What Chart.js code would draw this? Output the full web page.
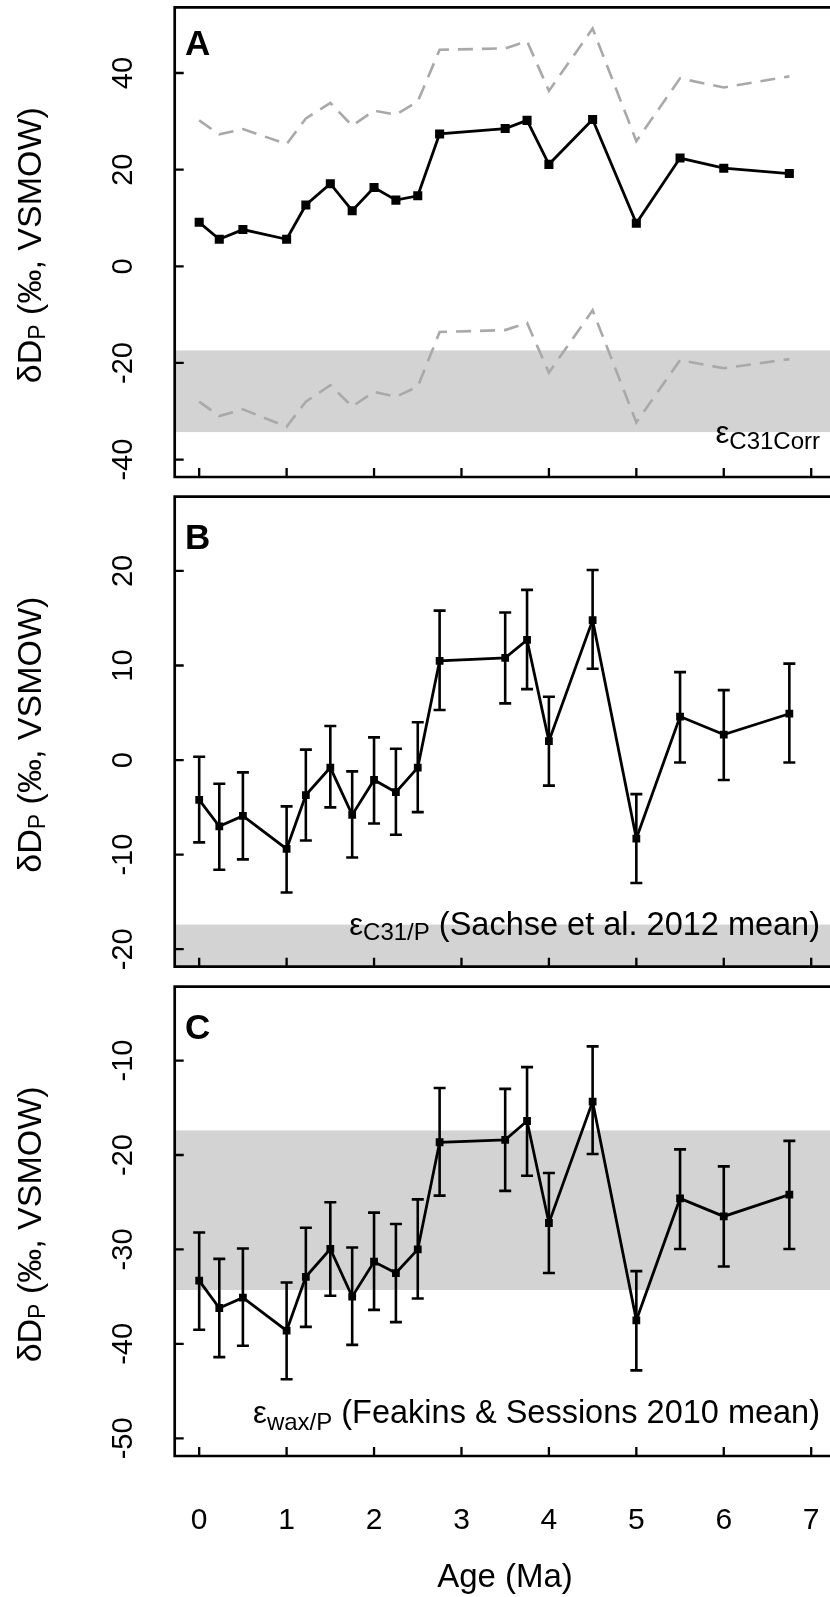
<!DOCTYPE html>
<html>
<head>
<meta charset="utf-8">
<script src="https://cdn.jsdelivr.net/npm/chart.js@4.4.1/dist/chart.umd.min.js"></script>
<style>
  body { margin: 0; background: #fff; width: 830px; height: 1597px; overflow: hidden; }
  canvas { position: absolute; left: 0; }
</style>
</head>
<body>
<canvas id="chartA" width="830" height="490" style="top:0px"></canvas>
<canvas id="chartB" width="830" height="490" style="top:490px"></canvas>
<canvas id="chartC" width="830" height="617" style="top:980px"></canvas>
<script>
// shared x axis (age, Ma)
const ages = [0, 0.23, 0.5, 1, 1.22, 1.5, 1.75, 2, 2.25, 2.5, 2.75, 3.5, 3.75, 4, 4.5, 5, 5.5, 6, 6.75];
const xTicks = [0, 1, 2, 3, 4, 5, 6, 7];
const xRange = [-0.28, 7.215];

// panel A: corrected epsilon, mean with upper/lower envelope
const corrMean = [9.1, 5.6, 7.6, 5.6, 12.7, 17.1, 11.5, 16.3, 13.7, 14.6, 27.4, 28.5, 30.2, 21.1, 30.4, 8.9, 22.4, 20.3, 19.2];
const corrUpper = [30.2, 27.3, 28.4, 25.3, 30.6, 33.8, 29.1, 32.2, 31.4, 34.1, 44.8, 45.1, 46.6, 36.3, 49.2, 25.9, 38.9, 37.0, 39.3];
const corrLower = [-28.0, -31.0, -29.6, -33.2, -28.0, -24.6, -29.0, -26.0, -27.0, -24.9, -13.6, -13.2, -11.7, -22.0, -9.1, -32.3, -19.4, -21.1, -19.2];
const yTicksA = [-40, -20, 0, 20, 40];
const yRangeA = [-43.6, 53.6];

// panel B: Sachse et al. 2012
const sachseMean = [-4.2, -7.0, -5.9, -9.4, -3.7, -0.8, -5.8, -2.1, -3.4, -0.8, 10.5, 10.8, 12.7, 2.0, 14.8, -8.3, 4.6, 2.7, 4.9];
const sachseHi = [0.35, -2.5, -1.3, -4.9, 1.1, 3.6, -1.2, 2.4, 1.2, 4.0, 15.8, 15.6, 18.0, 6.7, 20.1, -3.6, 9.3, 7.4, 10.2];
const sachseLo = [-8.7, -11.6, -10.5, -14.0, -8.5, -5.0, -10.3, -6.7, -7.9, -5.5, 5.3, 6.0, 7.5, -2.7, 9.65, -13.0, -0.25, -2.1, -0.25];
const yTicksB = [-20, -10, 0, 10, 20];
const yRangeB = [-21.85, 27.85];

// panel C: Feakins & Sessions 2010
const feakinsMean = [-33.3, -36.2, -35.1, -38.6, -32.9, -29.95, -35.0, -31.3, -32.5, -30.0, -18.65, -18.4, -16.4, -27.2, -14.35, -37.5, -24.6, -26.5, -24.2];
const feakinsHi = [-28.2, -31.0, -29.9, -33.5, -27.7, -25.0, -29.8, -26.1, -27.3, -24.7, -12.9, -13.0, -10.7, -21.9, -8.5, -32.3, -19.4, -21.2, -18.5];
const feakinsLo = [-38.5, -41.4, -40.2, -43.75, -38.2, -34.9, -40.1, -36.4, -37.7, -35.2, -24.3, -23.8, -22.2, -32.5, -19.9, -42.8, -29.95, -31.8, -29.95];
const yTicksC = [-50, -40, -30, -20, -10];
const yRangeC = [-51.87, -2.18];

// grey band (modern range)
const band = [-34.3, -17.4];

const FONT = "'Liberation Sans', Arial, sans-serif";

function pts(vals) {
  return ages.map((a, i) => ({ x: a, y: vals[i] }));
}

function drawRich(ctx, parts, x, y) {
  for (const q of parts) {
    ctx.font = q.font;
    ctx.fillText(q.t, x, y + (q.dy || 0));
    x += ctx.measureText(q.t).width;
  }
}
function richWidth(ctx, parts) {
  let w = 0;
  for (const q of parts) {
    ctx.font = q.font;
    w += ctx.measureText(q.t).width;
  }
  return w;
}

function panelPlugin(p) {
  return {
    id: 'panel' + p.letter,
    beforeDatasetsDraw(chart) {
      const { ctx, chartArea: a, scales: { x, y } } = chart;
      ctx.save();
      ctx.beginPath();
      ctx.rect(a.left, a.top, a.right - a.left, a.bottom - a.top);
      ctx.clip();
      ctx.fillStyle = '#d3d3d3';
      const yb1 = y.getPixelForValue(band[1]);
      const yb0 = y.getPixelForValue(band[0]);
      ctx.fillRect(a.left, yb1, a.right - a.left, yb0 - yb1);

      // error bars
      if (p.lo) {
        ctx.strokeStyle = '#000';
        ctx.lineWidth = 2.6;
        ages.forEach((age, i) => {
          const px = x.getPixelForValue(age);
          const ph = y.getPixelForValue(p.hi[i]);
          const pl = y.getPixelForValue(p.lo[i]);
          ctx.beginPath();
          ctx.moveTo(px, ph); ctx.lineTo(px, pl);
          ctx.moveTo(px - 6, ph); ctx.lineTo(px + 6, ph);
          ctx.moveTo(px - 6, pl); ctx.lineTo(px + 6, pl);
          ctx.stroke();
        });
      }
      ctx.restore();
    },
    afterDraw(chart) {
      const { ctx, chartArea: a, scales: { x, y } } = chart;
      ctx.save();
      ctx.strokeStyle = '#000';
      ctx.fillStyle = '#000';

      // frame (right side falls outside the picture)
      ctx.lineWidth = 2.7;
      ctx.beginPath();
      ctx.moveTo(chart.width + 5, a.top);
      ctx.lineTo(a.left, a.top);
      ctx.lineTo(a.left, a.bottom);
      ctx.lineTo(chart.width + 5, a.bottom);
      ctx.stroke();

      // inward ticks
      ctx.lineWidth = 2.3;
      ctx.beginPath();
      xTicks.forEach(v => {
        const px = x.getPixelForValue(v);
        ctx.moveTo(px, a.bottom); ctx.lineTo(px, a.bottom - 9);
      });
      p.yTicks.forEach(v => {
        const py = y.getPixelForValue(v);
        ctx.moveTo(a.left, py); ctx.lineTo(a.left + 9, py);
      });
      ctx.stroke();

      // y tick labels (vertical)
      ctx.font = '29px ' + FONT;
      ctx.textAlign = 'center';
      ctx.textBaseline = 'alphabetic';
      p.yTicks.forEach(v => {
        const py = y.getPixelForValue(v);
        ctx.save();
        ctx.translate(131.5, py);
        ctx.rotate(-Math.PI / 2);
        ctx.fillText(String(v), 0, 0);
        ctx.restore();
      });

      // y title
      const title = [
        { t: 'δD', font: '34px ' + FONT },
        { t: 'P', font: '23px ' + FONT, dy: 4 },
        { t: ' (‰, VSMOW)', font: '34px ' + FONT }
      ];
      ctx.save();
      ctx.translate(41, (a.top + a.bottom) / 2 + 3);
      ctx.rotate(-Math.PI / 2);
      ctx.textAlign = 'left';
      drawRich(ctx, title, -richWidth(ctx, title) / 2, 0);
      ctx.restore();

      // panel letter
      ctx.textAlign = 'left';
      ctx.font = 'bold 35px ' + FONT;
      ctx.fillText(p.letter, 185, p.letterY);

      // band label, right aligned
      const w = richWidth(ctx, p.note);
      drawRich(ctx, p.note, 820 - w, p.noteY);

      // x labels on the bottom panel only
      if (p.xLabels) {
        ctx.textAlign = 'center';
        ctx.font = '30px ' + FONT;
        xTicks.forEach(v => ctx.fillText(String(v), x.getPixelForValue(v), a.bottom + 73));
        ctx.font = '33px ' + FONT;
        ctx.fillText('Age (Ma)', 505, a.bottom + 131);
      }
      ctx.restore();
    }
  };
}

function makeChart(id, p, datasets) {
  const canvas = document.getElementById(id);
  return new Chart(canvas.getContext('2d'), {
    type: 'line',
    data: { datasets },
    options: {
      responsive: false,
      animation: false,
      layout: { autoPadding: false, padding: { top: p.top, left: 0, right: 0, bottom: 0 } },
      plugins: { legend: { display: false }, tooltip: { enabled: false } },
      scales: {
        x: {
          type: 'linear', min: xRange[0], max: xRange[1],
          grid: { display: false }, border: { display: false },
          ticks: { display: false },
          afterBuildTicks: s => { s.ticks = xTicks.map(v => ({ value: v })); },
          afterFit: s => { s.height = canvas.height - p.bottom; }
        },
        y: {
          type: 'linear', min: p.yRange[0], max: p.yRange[1],
          grid: { display: false }, border: { display: false },
          ticks: { display: false },
          afterBuildTicks: s => { s.ticks = p.yTicks.map(v => ({ value: v })); },
          afterFit: s => { s.width = 174.7; }
        }
      }
    },
    plugins: [panelPlugin(p)]
  });
}

function meanLine(vals, r) {
  return {
    data: pts(vals), borderColor: '#000', borderWidth: 2.8, tension: 0,
    pointStyle: 'rect', pointRadius: r, pointBackgroundColor: '#000', pointBorderWidth: 0
  };
}
function dashLine(vals) {
  return {
    data: pts(vals), borderColor: '#a9a9a9', borderWidth: 2.6, borderDash: [15, 9],
    tension: 0, pointRadius: 0
  };
}

const sub = '24px ' + FONT;
const eps = '31px ' + FONT;
const main = '32.5px ' + FONT;

makeChart('chartA', {
  letter: 'A', letterY: 55, top: 7.3, bottom: 477, yRange: yRangeA, yTicks: yTicksA,
  noteY: 443, note: [{ t: 'ε', font: eps }, { t: 'C31Corr', font: sub, dy: 6 }]
}, [meanLine(corrMean, 6.4), dashLine(corrUpper), dashLine(corrLower)]);

makeChart('chartB', {
  letter: 'B', letterY: 59, top: 6.7, bottom: 476.7, yRange: yRangeB, yTicks: yTicksB,
  hi: sachseHi, lo: sachseLo,
  noteY: 445, note: [{ t: 'ε', font: eps }, { t: 'C31/P', font: sub, dy: 5 }, { t: ' (Sachse et al. 2012 mean)', font: main }]
}, [meanLine(sachseMean, 5.5)]);

makeChart('chartC', {
  letter: 'C', letterY: 59, top: 6.7, bottom: 476, yRange: yRangeC, yTicks: yTicksC,
  hi: feakinsHi, lo: feakinsLo, xLabels: true,
  noteY: 443, note: [{ t: 'ε', font: eps }, { t: 'wax/P', font: sub, dy: 7 }, { t: ' (Feakins & Sessions 2010 mean)', font: main }]
}, [meanLine(feakinsMean, 5.5)]);
</script>
</body>
</html>
